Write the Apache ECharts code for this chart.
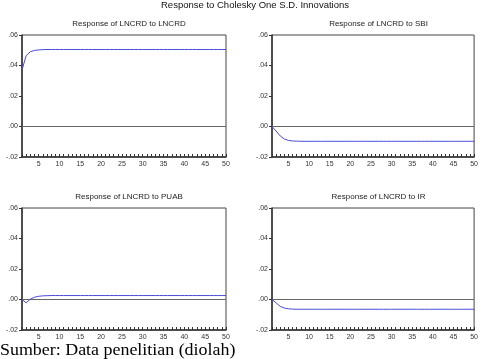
<!DOCTYPE html>
<html><head><meta charset="utf-8">
<script src="https://cdn.jsdelivr.net/npm/echarts@6/dist/echarts.min.js"></script>
<style>html,body{margin:0;padding:0;background:#fff}#c{width:481px;height:359px}</style>
</head><body><div id="c"></div>
<script>
var periods = [1,2,3,4,5,6,7,8,9,10,11,12,13,14,15,16,17,18,19,20,21,22,23,24,25,26,27,28,29,30,31,32,33,34,35,36,37,38,39,40,41,42,43,44,45,46,47,48,49,50];
var xTickLabels = [5,10,15,20,25,30,35,40,45,50];
var yTicks = [-0.02, 0.00, 0.02, 0.04, 0.06];
var panelTitles = ["Response of LNCRD to LNCRD","Response of LNCRD to SBI","Response of LNCRD to PUAB","Response of LNCRD to IR"];
var respLNCRD = [0.0370,0.0465,0.0490,0.0499,0.0502,0.0504,0.0505,0.0505,0.0505,0.0505,0.0505,0.0505,0.0505,0.0505,0.0505,0.0505,0.0505,0.0505,0.0505,0.0505,0.0505,0.0505,0.0505,0.0505,0.0505,0.0505,0.0505,0.0505,0.0505,0.0505,0.0505,0.0505,0.0505,0.0505,0.0505,0.0505,0.0505,0.0505,0.0505,0.0505,0.0505,0.0505,0.0505,0.0505,0.0505,0.0505,0.0505,0.0505,0.0505,0.0505];
var respSBI = [0.0000,-0.0030,-0.0062,-0.0082,-0.0091,-0.0095,-0.0096,-0.0097,-0.0097,-0.0097,-0.0097,-0.0097,-0.0097,-0.0097,-0.0097,-0.0097,-0.0097,-0.0097,-0.0097,-0.0097,-0.0097,-0.0097,-0.0097,-0.0097,-0.0097,-0.0097,-0.0097,-0.0097,-0.0097,-0.0097,-0.0097,-0.0097,-0.0097,-0.0097,-0.0097,-0.0097,-0.0097,-0.0097,-0.0097,-0.0097,-0.0097,-0.0097,-0.0097,-0.0097,-0.0097,-0.0097,-0.0097,-0.0097,-0.0097,-0.0097];
var respPUAB = [0.0000,-0.0022,0.0002,0.0015,0.0021,0.0024,0.0025,0.0026,0.0026,0.0026,0.0026,0.0026,0.0026,0.0026,0.0026,0.0026,0.0026,0.0026,0.0026,0.0026,0.0026,0.0026,0.0026,0.0026,0.0026,0.0026,0.0026,0.0026,0.0026,0.0026,0.0026,0.0026,0.0026,0.0026,0.0026,0.0026,0.0026,0.0026,0.0026,0.0026,0.0026,0.0026,0.0026,0.0026,0.0026,0.0026,0.0026,0.0026,0.0026,0.0026];
var respIR = [0.0000,-0.0022,-0.0045,-0.0056,-0.0061,-0.0063,-0.0064,-0.0064,-0.0064,-0.0064,-0.0064,-0.0064,-0.0064,-0.0064,-0.0064,-0.0064,-0.0064,-0.0064,-0.0064,-0.0064,-0.0064,-0.0064,-0.0064,-0.0064,-0.0064,-0.0064,-0.0064,-0.0064,-0.0064,-0.0064,-0.0064,-0.0064,-0.0064,-0.0064,-0.0064,-0.0064,-0.0064,-0.0064,-0.0064,-0.0064,-0.0064,-0.0064,-0.0064,-0.0064,-0.0064,-0.0064,-0.0064,-0.0064,-0.0064,-0.0064];
var seriesList = [respLNCRD, respSBI, respPUAB, respIR];

var grids = [
  {left:22, top:35, width:204, height:122},
  {left:272, top:35, width:203, height:122},
  {left:22, top:208, width:204, height:122},
  {left:272, top:208, width:203, height:122}
];
var font = 'Liberation Sans, Arial, sans-serif';
var option = {
  animation:false,
  title: [{text:'Response to Cholesky One S.D. Innovations', left:250, top:-5, textAlign:'center',
           textStyle:{fontFamily:font, fontSize:9.5, fontWeight:'normal', color:'#111'}}],
  grid: [], xAxis: [], yAxis: [], series: [],
  graphic: [{type:'text', x:0, y:343, scaleX:1.12, style:{text:'Sumber: Data penelitian (diolah)', font:'16px "Liberation Serif", "Times New Roman", serif', fill:'#000', verticalAlign:'top'}}]
};
for (var i=0;i<4;i++){
  var g = grids[i];
  option.grid.push({left:g.left, top:g.top, width:g.width, height:g.height, show:true, borderColor:'#444', borderWidth:1, backgroundColor:'#fff'});
  option.title.push({text:panelTitles[i], left:g.left+g.width/2, top:(i<2?15:188), textAlign:'center',
      textStyle:{fontFamily:font, fontSize:8, fontWeight:'normal', color:'#222'}});
  option.xAxis.push({type:'value', gridIndex:i, min:1, max:50,
      axisLine:{show:true, onZero:false, lineStyle:{color:'#333', width:1.5}},
      axisTick:{show:true, inside:true, length:3, customValues:periods, lineStyle:{color:'#333'}},
      axisLabel:{customValues:xTickLabels, fontFamily:font, fontSize:7, color:'#333', margin:4},
      splitLine:{show:false}});
  option.yAxis.push({type:'value', gridIndex:i, min:-0.02, max:0.06, interval:0.02,
      axisLine:{show:true, onZero:false, lineStyle:{color:'#333', width:1.5}},
      axisTick:{show:true, length:3, lineStyle:{color:'#333'}},
      axisLabel:{fontFamily:font, fontSize:7, color:'#333', margin:4,
        formatter:function(v){ var s=v.toFixed(2); return s.replace('0.', '.'); }},
      splitLine:{show:false}});
  var data = periods.map(function(p,k){ return [p, seriesList[i][k]]; });
  option.series.push({type:'line', xAxisIndex:i, yAxisIndex:i, data:data, showSymbol:false, symbol:'none',
      lineStyle:{color:'#4a4ad8', width:1}, z:3,
      markLine:{silent:true, symbol:['none','none'], label:{show:false}, lineStyle:{color:'#666', type:'solid', width:1}, data:[{yAxis:0}], z:2}});
}
var chart = echarts.init(document.getElementById('c'), null, {renderer:'canvas'});
chart.setOption(option);
</script></body></html>
